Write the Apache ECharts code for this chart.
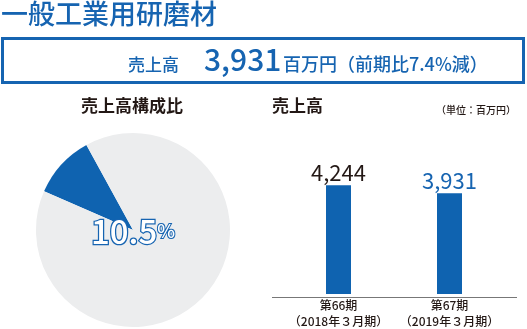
<!DOCTYPE html>
<html><head><meta charset="utf-8">
<script src="https://cdn.jsdelivr.net/npm/echarts@6/dist/echarts.min.js"></script>
<style>html,body{margin:0;padding:0;background:#fff}#c{width:527px;height:329px}</style>
</head><body><div id="c"></div>
<script>
const pageTitle = '一般工業用研磨材';
const boxLabel = '売上高';
const boxValue = '3,931';
const boxUnit = '百万円（前期比7.4%減）';
const pieTitle = '売上高構成比';
const pieNames = ['一般工業用研磨材', 'その他'];
const pieValues = [10.5, 89.5];
const pieLabel = '10.5';
const barTitle = '売上高';
const barUnit = '（単位：百万円）';
const categories = ['第66期\n（2018年３月期）', '第67期\n（2019年３月期）'];
const salesValues = [4244, 3931];

const BLUE = '#1664b1';
const DARK = '#231815';
const FONT = '"Noto Sans CJK JP", "Noto Sans", sans-serif';

const chart = echarts.init(document.getElementById('c'), null, {renderer: 'canvas'});
chart.setOption({
  animation: false,
  textStyle: {fontFamily: FONT},
  graphic: [
    {type: 'text', left: 1, top: 0, style: {text: pageTitle, fill: BLUE, font: '500 27px ' + FONT}},
    {type: 'rect', shape: {x: 2.5, y: 38.5, width: 521, height: 44}, style: {fill: 'none', stroke: BLUE, lineWidth: 3}},
    {type: 'text', x: 128, y: 73, style: {text: boxLabel, fill: BLUE, font: '500 17px ' + FONT, textVerticalAlign: 'bottom'}},
    {type: 'text', x: 204, y: 74.5, style: {text: boxValue, fill: BLUE, font: '500 30px ' + FONT, textVerticalAlign: 'bottom'}},
    {type: 'text', x: 283, y: 73, style: {text: boxUnit, fill: BLUE, font: '500 18px ' + FONT, textVerticalAlign: 'bottom'}},
    {type: 'text', x: 132, y: 106, style: {text: pieTitle, fill: DARK, font: 'bold 17px ' + FONT, textAlign: 'center', textVerticalAlign: 'middle'}},
    {type: 'text', x: 272, y: 106, style: {text: barTitle, fill: DARK, font: 'bold 17px ' + FONT, textVerticalAlign: 'middle'}},
    {type: 'text', x: 516, y: 110, style: {text: barUnit, fill: DARK, font: '500 10px ' + FONT, textAlign: 'right', textVerticalAlign: 'middle'}},
    {type: 'line', shape: {x1: 272, y1: 297.5, x2: 517, y2: 297.5}, style: {stroke: '#777', lineWidth: 1}, z: 10},
    {type: 'text', x: 133, y: 231, z: 20, style: {
      rich: {
        a: {fontSize: 33, fontWeight: 500, fontFamily: FONT, fill: '#fff', stroke: BLUE, lineWidth: 2.5},
        b: {fontSize: 19, fontWeight: 500, fontFamily: FONT, fill: '#fff', stroke: BLUE, lineWidth: 2}
      },
      text: '{a|' + pieLabel + '}{b|%}', textAlign: 'center', textVerticalAlign: 'middle'
    }}
  ],
  grid: {left: 283, right: 22, top: 166, bottom: 32},
  xAxis: {
    type: 'category', data: categories,
    axisLine: {show: false}, axisTick: {show: false},
    axisLabel: {interval: 0, hideOverlap: false, color: DARK, fontSize: 12, fontWeight: 500, lineHeight: 16, margin: 3, fontFamily: FONT}
  },
  yAxis: {type: 'value', min: 0, max: 5000, show: false, splitLine: {show: false}},
  series: [
    {
      type: 'pie', center: [133, 230], radius: 97, startAngle: 156.5, clockwise: true,
      silent: true, label: {show: false}, labelLine: {show: false},
      data: pieNames.map((n, i) => ({name: n, value: pieValues[i], itemStyle: {color: i === 0 ? '#0f63b0' : '#ecedee'}}))
    },
    {
      type: 'bar', barWidth: 25,
      data: salesValues.map((v, i) => ({value: v, label: {color: i === 0 ? DARK : BLUE}})),
      itemStyle: {color: '#0f63b0'},
      label: {show: true, position: 'top', distance: 2, fontSize: 22, fontFamily: FONT,
        formatter: p => p.value.toLocaleString('en-US')}
    }
  ]
});
</script></body></html>
